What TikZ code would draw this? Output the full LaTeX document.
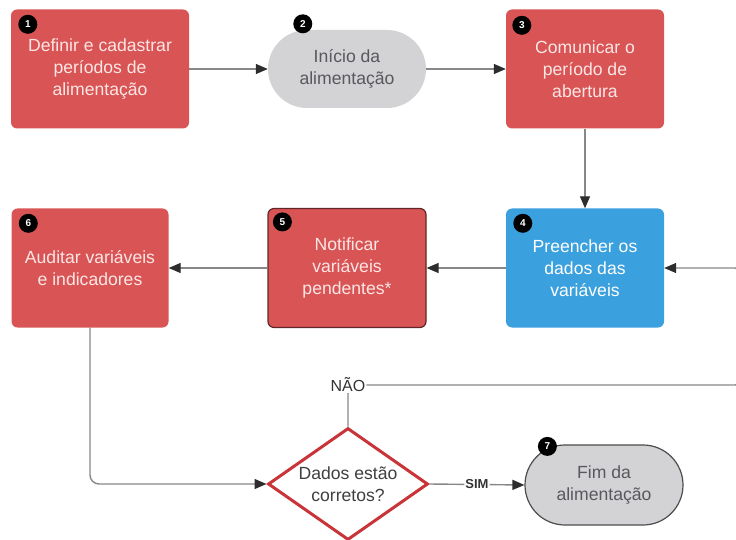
\documentclass[tikz,border=0pt]{standalone}
\usepackage{fontspec}
\setmainfont{Liberation Sans}
\usetikzlibrary{arrows.meta,shapes.geometric}
\definecolor{boxred}{RGB}{217,84,84}
\definecolor{boxblue}{RGB}{58,160,222}
\definecolor{termgray}{RGB}{211,211,213}
\definecolor{termtext}{RGB}{88,88,94}
\definecolor{redtext}{RGB}{252,230,230}
\definecolor{linegray}{RGB}{135,135,135}
\definecolor{tipgray}{RGB}{45,45,45}
\definecolor{diared}{RGB}{200,52,56}
\tikzset{
    txt/.style={align=center, font=\fontsize{17.6}{22}\selectfont},
    redbox/.style={txt, rectangle, rounded corners=6pt, fill=boxred, text=redtext,
        minimum width=158pt, minimum height=119pt, inner sep=0pt},
    bluebox/.style={redbox, fill=boxblue, text=white},
    term/.style={txt, rectangle, rounded corners=39pt, fill=termgray, text=termtext,
        minimum width=158pt, minimum height=78pt, inner sep=0pt},
    badge/.style={circle, fill=black, text=white, inner sep=0pt, minimum size=19pt,
        font=\fontsize{10}{10}\selectfont\bfseries},
    flow/.style={draw=linegray, line width=1.4pt, rounded corners=9pt,
        -{Triangle[length=12pt,width=10pt,color=tipgray]}},
    lbl/.style={fill=white, inner sep=1pt, text=black!80}
}
\begin{document}
\begin{tikzpicture}[x=1pt,y=-1pt]
    \useasboundingbox (0,0) rectangle (736,540);
    \clip (0,0) rectangle (736,540);

    % top row
    \node[redbox, minimum width=178pt] (b1) at (100,69) {Definir e cadastrar\\períodos de\\alimentação};
    \node[term] (b2) at (347,69) {Início da\\alimentação};
    \node[redbox] (b3) at (585,69) {Comunicar o\\período de\\abertura};

    % middle row
    \node[bluebox] (b4) at (585,268) {Preencher os\\dados das\\variáveis};
    \node[redbox, draw=black!55!boxred, line width=1.2pt] (b5) at (347,268) {Notificar\\variáveis\\pendentes*};
    \node[redbox, minimum width=157pt] (b6) at (90,268) {Auditar variáveis\\e indicadores};

    % bottom row
    \node[diamond, draw=diared, line width=3pt, fill=white, txt, text=black!75,
        minimum width=160pt, minimum height=112pt, aspect=1.43, inner sep=0pt] (dia) at (348,484)
        {Dados estão\\corretos?};
    \node[term, minimum height=80pt, rounded corners=40pt, draw=black!70, line width=1.2pt] (b7) at (604,485)
        {Fim da\\alimentação};

    % numbers
    \node[badge] (n1) at ([shift={(17,15)}]b1.north west) {1};
    \node[badge] (n2) at ([shift={(35,-6)}]b2.north west) {2};
    \node[badge] (n3) at ([shift={(16,16)}]b3.north west) {3};
    \node[badge] (n4) at ([shift={(17,15)}]b4.north west) {4};
    \node[badge] (n5) at ([shift={(15,14)}]b5.north west) {5};
    \node[badge] (n6) at ([shift={(17,15)}]b6.north west) {6};
    \node[badge] (n7) at ([shift={(23,2)}]b7.north west) {7};

    \coordinate (loop) at (744,385);

    % connectors
    \draw[flow] (b1) -- (b2);
    \draw[flow] (b2) -- (b3);
    \draw[flow] (b3) -- (b4);
    \draw[flow] (b4) -- (b5);
    \draw[flow] (b5) -- (b6);
    \draw[flow] (b6.south) |- (dia.west);
    \draw[flow] (dia.east) -- node[lbl, font=\fontsize{13}{13}\selectfont\bfseries] {SIM} (b7.west);
    \draw[flow] (dia.north) |- node[lbl, font=\fontsize{16}{16}\selectfont] {NÃO} (loop) |- (b4.east);
\end{tikzpicture}
\end{document}
